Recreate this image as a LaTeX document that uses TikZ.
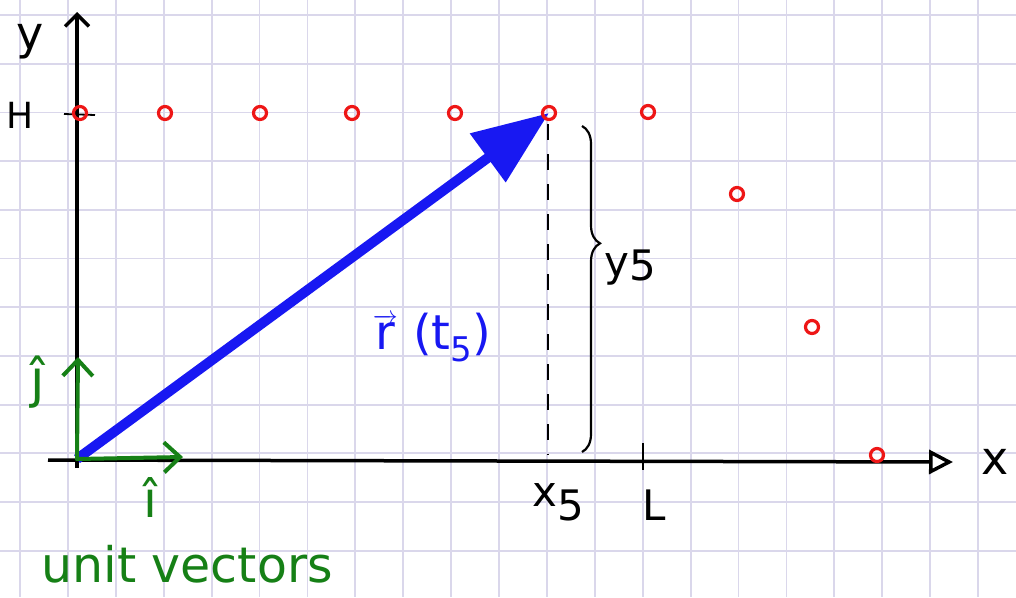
\documentclass[tikz,border=0pt]{standalone}
\usepackage{amsmath}
\usepackage{fontspec}
\setmainfont{DejaVu Sans}
\usetikzlibrary{arrows.meta,positioning,decorations.pathreplacing}
\definecolor{gridc}{RGB}{218,215,235}
\definecolor{dotred}{RGB}{238,22,22}
\definecolor{vecblue}{RGB}{24,24,242}
\definecolor{unitgreen}{RGB}{22,128,22}

\begin{document}
\begin{tikzpicture}[x=1pt, y=-1pt, >=Latex]
        \tikzset{gridline/.style={gridc, line width=1.8pt}, axis/.style={black, line width=3.5pt}, dot/.style={circle, draw=dotred, line width=3.2pt, minimum size=13pt, inner sep=0pt}, unitvec/.style={unitgreen, line width=4pt, line cap=round, -{Straight Barb[length=16pt,width=30pt]}}, lbl/.style={inner sep=0pt, font=\fontsize{42}{42}\selectfont}}
        \useasboundingbox[fill=white] (0,0) rectangle (1016,597);
        \foreach \i in {0,...,20} {\draw[gridline] (20+47.9*\i,0) -- (20+47.9*\i,597);}
        \foreach \j in {0,...,11} {\draw[gridline] (0,15+48.7*\j) -- (1016,15+48.7*\j);}
        \coordinate (o) at (77,459);
        \coordinate (ys) at (77,468);
        \coordinate (ye) at (77,12);
        \coordinate (xs) at (48,460);
        \coordinate (xe) at (953,462);
        \coordinate (t5) at (549,113);
        \coordinate (xfoot) at (548,455);
        \coordinate (xtop) at (548,124);
        \draw[axis, -{Straight Barb[length=12pt,width=24pt]}] (ys) -- (ye);
        \draw[axis, -{Triangle[open,length=24pt,width=24pt]}] (xs) -- (xe);
        \draw[black, line width=1.8pt] (64,114) -- (95,115);
        \draw[black, line width=2pt] (643,443) -- (643,470);
        \draw[black, line width=2pt, dash pattern=on 16pt off 14pt] (xtop) -- (xfoot);
        \draw[black, line width=2.2pt, decorate, decoration={brace, amplitude=18pt, aspect=0.36}] (582,126) -- (582,452);
        \draw[vecblue, line width=10pt, -{Triangle[length=76pt,width=58pt]}] (o) -- (t5);
        \draw[unitvec] (o) -- (183,457);
        \draw[unitvec] (o) -- (78,357);
        \foreach \n/\p in {p0/{(80,113)}, p1/{(165,113)}, p2/{(260,113)}, p3/{(352,113)}, p4/{(455,113)}, p5/{(549,113)}, p6/{(648,112)}, p7/{(737,194)}, p8/{(812,327)}, p9/{(877,455)}} {\node[dot] (\n) at \p {};}
        \node[lbl, font=\fontsize{46}{46}\selectfont] (ylab) at (30,42) {y};
        \node[lbl, font=\fontsize{46}{46}\selectfont] (xlab) at (995,462) {x};
        \node[lbl, font=\fontsize{36}{36}\selectfont] (hlab) at (20,115) {H};
        \node[lbl] (x5) at (558,502) {x\raisebox{-14pt}{5}};
        \node[lbl] (llab) at (654,505) {L};
        \node[lbl] (y5) at (630,268) {y\raisebox{-4pt}{5}};
        \node[lbl, vecblue, font=\fontsize{48}{48}\selectfont] (rlab) at (432,338) {$\overrightarrow{\text{r}}$ (t\raisebox{-12pt}{\fontsize{34}{34}\selectfont 5})};
        \node[lbl, unitgreen, font=\fontsize{52}{52}\selectfont] (jlab) at (38,382) {ĵ};
        \node[lbl, unitgreen, font=\fontsize{50}{50}\selectfont] (ilab) at (150,497) {î};
        \node[lbl, unitgreen, font=\fontsize{49}{49}\selectfont] (units) at (187,564) {unit vectors};
    \end{tikzpicture}
\end{document}
